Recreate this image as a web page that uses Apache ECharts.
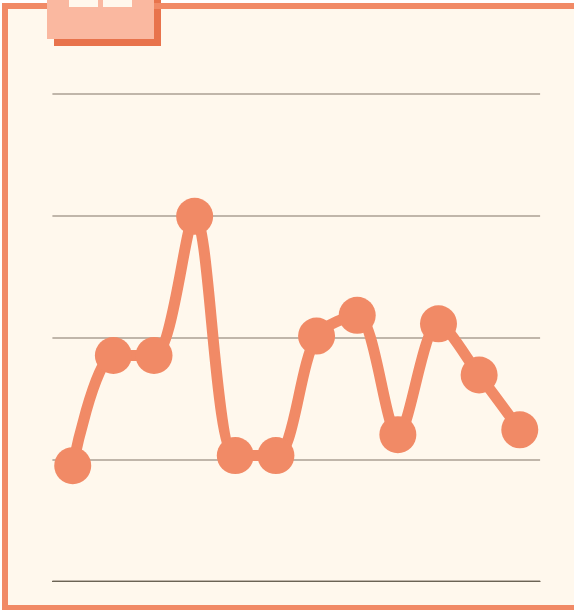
<!DOCTYPE html>
<html>
<head>
<meta charset="utf-8">
<style>html,body{margin:0;padding:0;background:#fff}#chart{width:574px;height:610px}</style>
<script src="https://cdn.jsdelivr.net/npm/echarts@6/dist/echarts.min.js"></script>
</head>
<body>
<div id="chart"></div>
<script>
const categories = ['1','2','3','4','5','6','7','8','9','10','11','12'];
const values = [9.47, 18.52, 18.52, 29.95, 10.3, 10.3, 20.12, 21.82, 12.02, 21.12, 16.92, 12.42];
const yTicks = [0, 10, 20, 30, 40];

const chart = echarts.init(document.getElementById('chart'));
chart.setOption({
  animation: false,
  backgroundColor: '#fff',
  grid: { left: 52.4, right: 33.9, top: 94, bottom: 29 },
  xAxis: {
    type: 'category',
    data: categories,
    axisLine: { show: true, lineStyle: { color: '#6b6455', width: 1 } },
    axisTick: { show: false },
    axisLabel: { show: false }
  },
  yAxis: {
    type: 'value',
    min: yTicks[0],
    max: yTicks[yTicks.length - 1],
    interval: 10,
    axisLine: { show: false },
    axisTick: { show: false },
    axisLabel: { show: false },
    splitLine: { lineStyle: { color: '#c0b6aa', width: 2 } }
  },
  graphic: [
    // paper, tab shadow, frame, tab - in that order
    { type: 'rect', z: -1, shape: { x: 5, y: 6, width: 572, height: 602 }, style: { fill: '#fff8ed' } },
    { type: 'rect', z: -1, shape: { x: 54, y: 0, width: 107, height: 46 }, style: { fill: '#e8734c' } },
    { type: 'rect', z: -1, shape: { x: 5, y: 6, width: 572, height: 602 },
      style: { fill: 'none', stroke: '#f18a66', lineWidth: 6 } },
    { type: 'rect', z: -1, shape: { x: 47, y: 0, width: 107, height: 39 }, style: { fill: '#fab8a0' } },
    { type: 'rect', z: -1, shape: { x: 69, y: 0, width: 29, height: 7 }, style: { fill: '#fff8ed' } },
    { type: 'rect', z: -1, shape: { x: 103, y: 0, width: 29, height: 7 }, style: { fill: '#fff8ed' } }
  ],
  series: [{
    type: 'line',
    data: values,
    smooth: 0.3,
    symbol: 'circle',
    symbolSize: 37,
    showSymbol: true,
    showAllSymbol: true,
    itemStyle: { color: '#f18a66' },
    lineStyle: { color: '#f18a66', width: 11 }
  }]
});
</script>
</body>
</html>
